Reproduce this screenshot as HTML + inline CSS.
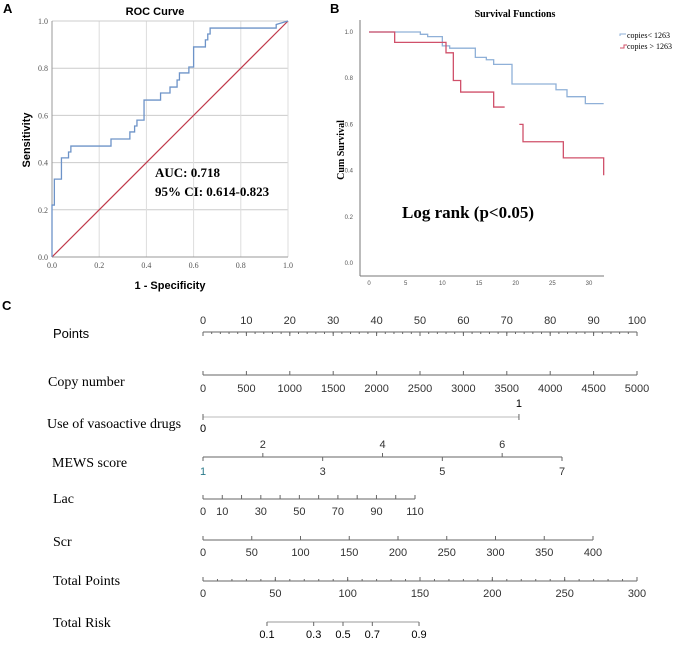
<!DOCTYPE html>
<html><head><meta charset="utf-8"><style>
body{margin:0;background:#fff}
svg text{font-family:"Liberation Sans",sans-serif}
.s{font-family:"Liberation Serif",serif}
</style></head><body>
<svg id="fig" width="687" height="644" viewBox="0 0 687 644" xmlns="http://www.w3.org/2000/svg">
<g id="pa"></g>
<g id="pb"></g>
<g id="pc"></g>
</svg>
<script>
const rocFpr=[0,0,0.01,0.01,0.04,0.04,0.07,0.07,0.08,0.08,0.25,0.25,0.33,0.33,0.35,0.35,0.36,0.36,0.39,0.39,0.46,0.46,0.5,0.5,0.53,0.53,0.54,0.54,0.58,0.58,0.6,0.6,0.65,0.65,0.66,0.66,0.67,0.67,0.95,0.95,1];
const rocTpr=[0,0.22,0.22,0.33,0.33,0.42,0.42,0.445,0.445,0.47,0.47,0.5,0.5,0.53,0.53,0.555,0.555,0.58,0.58,0.665,0.665,0.695,0.695,0.72,0.72,0.75,0.75,0.78,0.78,0.805,0.805,0.89,0.89,0.92,0.92,0.945,0.945,0.97,0.97,0.985,1];
const rocTicks=["0.0","0.2","0.4","0.6","0.8","1.0"];
const kmTimeLow=[0,7,8,10,11,14.5,16,17,19.5,25.5,27,29.5,32];
const kmSurvLow=[1,0.99,0.98,0.94,0.93,0.89,0.88,0.86,0.775,0.75,0.72,0.69,0.69];
const kmTimeHigh=[0,3.5,10.5,11.5,12.5,17,18.5];
const kmSurvHigh=[1,0.955,0.91,0.79,0.74,0.675,0.675];
const kmTimeHigh2=[20.5,21,25.5,26.5,32];
const kmSurvHigh2=[0.6,0.525,0.525,0.455,0.38];
const kmXTicks=[0,5,10,15,20,25,30];
const kmYTicks=[0,0.2,0.4,0.6,0.8,1.0];
const nomoPointsTicks=[0,10,20,30,40,50,60,70,80,90,100];
const nomoCopyTicks=[0,500,1000,1500,2000,2500,3000,3500,4000,4500,5000];
const nomoMewsTicks=[1,2,3,4,5,6,7];
const nomoLacTicks=[0,10,20,30,40,50,60,70,80,90,100,110];
const nomoLacLabels=[0,10,30,50,70,90,110];
const nomoScrTicks=[0,50,100,150,200,250,300,350,400];
const nomoTotalTicks=[0,50,100,150,200,250,300];
const nomoRiskTicks=[0.1,0.3,0.5,0.7,0.9];
const vasoPoints=[0,72.8];

const NS="http://www.w3.org/2000/svg";
function mk(p,tag,a,txt){const e=document.createElementNS(NS,tag);for(const k in a)e.setAttribute(k,a[k]);if(txt!==undefined)e.textContent=txt;p.appendChild(e);return e;}
const pa=document.getElementById('pa'),pb=document.getElementById('pb'),pc=document.getElementById('pc');

// Panel A
const ax=v=>52+v*236, ay=v=>257-v*236;
let t=mk(pa,'text',{x:3,y:13,'font-size':13,'font-weight':'bold'},'A');

t=mk(pa,'text',{x:155,y:15,'font-size':11,'font-weight':'bold','text-anchor':'middle'},'ROC Curve');

for(let i=0;i<6;i++){const v=i*0.2;
 let g=mk(pa,'line',{x1:ax(v),x2:ax(v),y1:ay(0),y2:ay(1),stroke:'#ddd','stroke-width':1});
 
 g=mk(pa,'line',{x1:ax(0),x2:ax(1),y1:ay(v),y2:ay(v),stroke:'#ccc','stroke-width':1});
 
 g=mk(pa,'text',{x:ax(v),y:268,'font-size':8,fill:'#555','text-anchor':'middle',class:'s'},rocTicks[i]);
 
 g=mk(pa,'text',{x:48,y:ay(v)+3,'font-size':8,fill:'#555','text-anchor':'end',class:'s'},rocTicks[i]);
 }
let l=mk(pa,'line',{x1:ax(0),x2:ax(0),y1:ay(0),y2:ay(1),stroke:'#999'});
l=mk(pa,'line',{x1:ax(0),x2:ax(1),y1:ay(0),y2:ay(0),stroke:'#999'});
l=mk(pa,'line',{x1:ax(0),y1:ay(0),x2:ax(1),y2:ay(1),stroke:'#c0394b','stroke-width':1.2});
l=mk(pa,'polyline',{points:rocFpr.map((f,i)=>ax(f)+','+ay(rocTpr[i])).join(' '),fill:'none',stroke:'#6d93c8','stroke-width':1.3});

t=mk(pa,'text',{x:30,y:140,'font-size':11,'font-weight':'bold','text-anchor':'middle',transform:'rotate(-90 30 140)'},'Sensitivity');

t=mk(pa,'text',{x:170,y:289,'font-size':11,'font-weight':'bold','text-anchor':'middle'},'1 - Specificity');

t=mk(pa,'text',{x:155,y:177,'font-size':13,'font-weight':'bold',class:'s'},'AUC:  0.718');

t=mk(pa,'text',{x:155,y:196,'font-size':13,'font-weight':'bold',class:'s'},'95% CI: 0.614-0.823');


// Panel B
const bx=v=>369+v*220/30, by=v=>263-v*231;
t=mk(pb,'text',{x:330,y:13,'font-size':13,'font-weight':'bold'},'B');

t=mk(pb,'text',{x:515,y:17,'font-size':10,'font-weight':'bold','text-anchor':'middle',class:'s'},'Survival Functions');

l=mk(pb,'line',{x1:360,x2:360,y1:20,y2:276,stroke:'#777'});
l=mk(pb,'line',{x1:360,x2:604,y1:276,y2:276,stroke:'#777'});
kmXTicks.forEach(v=>{let g=mk(pb,'text',{x:bx(v),y:285,'font-size':6,fill:'#555','text-anchor':'middle'},v);
 });
kmYTicks.forEach(v=>{let g=mk(pb,'text',{x:353,y:by(v)+2,'font-size':6,fill:'#555','text-anchor':'end'},v.toFixed(1));
 });
function step(ts,ss){let p=[];for(let i=0;i<ts.length;i++){if(i>0)p.push(bx(ts[i])+','+by(ss[i-1]));p.push(bx(ts[i])+','+by(ss[i]));}return p.join(' ');}
l=mk(pb,'polyline',{points:step(kmTimeLow,kmSurvLow),fill:'none',stroke:'#8fb0d8','stroke-width':1.3});
l=mk(pb,'polyline',{points:step(kmTimeHigh,kmSurvHigh),fill:'none',stroke:'#d0506a','stroke-width':1.3});
l=mk(pb,'polyline',{points:step(kmTimeHigh2,kmSurvHigh2),fill:'none',stroke:'#d0506a','stroke-width':1.3});
t=mk(pb,'text',{x:344,y:150,'font-size':10,'font-weight':'bold','text-anchor':'middle',class:'s',transform:'rotate(-90 344 150)'},'Cum Survival');

t=mk(pb,'text',{x:402,y:218,'font-size':17,'font-weight':'bold',class:'s'},'Log rank (p<0.05)');

l=mk(pb,'polyline',{points:'620,36 620,34 626,34',fill:'none',stroke:'#8fb0d8'});
t=mk(pb,'text',{x:627,y:38,'font-size':8,class:'s'},'copies< 1263');
l=mk(pb,'polyline',{points:'620,48 624,48 624,45 627,45',fill:'none',stroke:'#d0506a'});
t=mk(pb,'text',{x:627,y:49,'font-size':8,class:'s'},'copies > 1263');

// Panel C
const X0=203,X1=637;
t=mk(pc,'text',{x:2,y:310,'font-size':13,'font-weight':'bold'},'C');

function axisRow(name,label,ly,tx,ty,max,ticks,labels,labY,x1,minor,lsize){
 const sx=v=>X0+v/max*(x1-X0);
 let g=mk(pc,'text',{x:tx,y:ty,'font-size':lsize||14,class:name==='points'?'':'s'},label);
 
 g=mk(pc,'line',{x1:sx(0),x2:sx(max),y1:ly,y2:ly,stroke:'#666'});
 
 const td=labY<ly?1:-1;
 ticks.forEach(v=>{let k=mk(pc,'line',{x1:sx(v),x2:sx(v),y1:ly,y2:ly+4*td,stroke:'#666'});
  });
 if(minor){for(let v=0;v<max;v+=minor){let k=mk(pc,'line',{x1:sx(v),x2:sx(v),y1:ly,y2:ly+2*td,stroke:'#666'});
  }}
 labels.forEach(v=>{let k=mk(pc,'text',{x:sx(v),y:labY,'font-size':11,fill:'#333','text-anchor':'middle'},v);
  });
 return sx;}
axisRow('points','Points',332,53,338,100,nomoPointsTicks,nomoPointsTicks,324,X1,2,13);
axisRow('copy-number','Copy number',375,48,386,5000,nomoCopyTicks,nomoCopyTicks,392,X1);
axisRow('lac','Lac',499,53,503,110,nomoLacTicks,nomoLacLabels,515,415);
axisRow('scr','Scr',540,53,546,400,nomoScrTicks,nomoScrTicks,556,593);
axisRow('total-points','Total Points',581,53,585,300,nomoTotalTicks,nomoTotalTicks,597,X1,10);
// vaso
const px=p=>X0+p/100*(X1-X0);
t=mk(pc,'text',{x:47,y:428,'font-size':14,class:'s'},'Use of vasoactive drugs');
l=mk(pc,'line',{x1:px(vasoPoints[0]),x2:px(vasoPoints[1]),y1:417,y2:417,stroke:'#bbb'});
[0,1].forEach(i=>{let k=mk(pc,'line',{x1:px(vasoPoints[i]),x2:px(vasoPoints[i]),y1:414,y2:420,stroke:'#666'});
 k=mk(pc,'text',{x:px(vasoPoints[i]),y:i?407:432,'font-size':11,'text-anchor':'middle'},i);});
// MEWS
const mx=v=>X0+(v-1)/6*(562-X0);
t=mk(pc,'text',{x:52,y:467,'font-size':14,class:'s'},'MEWS score');
l=mk(pc,'line',{x1:mx(1),x2:mx(7),y1:457,y2:457,stroke:'#666'});
nomoMewsTicks.forEach(v=>{const up=v%2===0;let k=mk(pc,'line',{x1:mx(v),x2:mx(v),y1:457,y2:up?453:461,stroke:'#666'});
 k=mk(pc,'text',{x:mx(v),y:up?448:475,'font-size':11,'text-anchor':'middle',fill:v===1?'#2a7a8a':'#333'},v);});
// Risk
const lg=p=>Math.log(p/(1-p));
const rx=p=>343+lg(p)*34.6;
t=mk(pc,'text',{x:53,y:627,'font-size':14,class:'s'},'Total Risk');
l=mk(pc,'line',{x1:rx(0.1),x2:rx(0.9),y1:622,y2:622,stroke:'#999'});
nomoRiskTicks.forEach(v=>{let k=mk(pc,'line',{x1:rx(v),x2:rx(v),y1:622,y2:626,stroke:'#666'});
 k=mk(pc,'text',{x:rx(v),y:638,'font-size':11,'text-anchor':'middle'},v);});
</script>
</body></html>
